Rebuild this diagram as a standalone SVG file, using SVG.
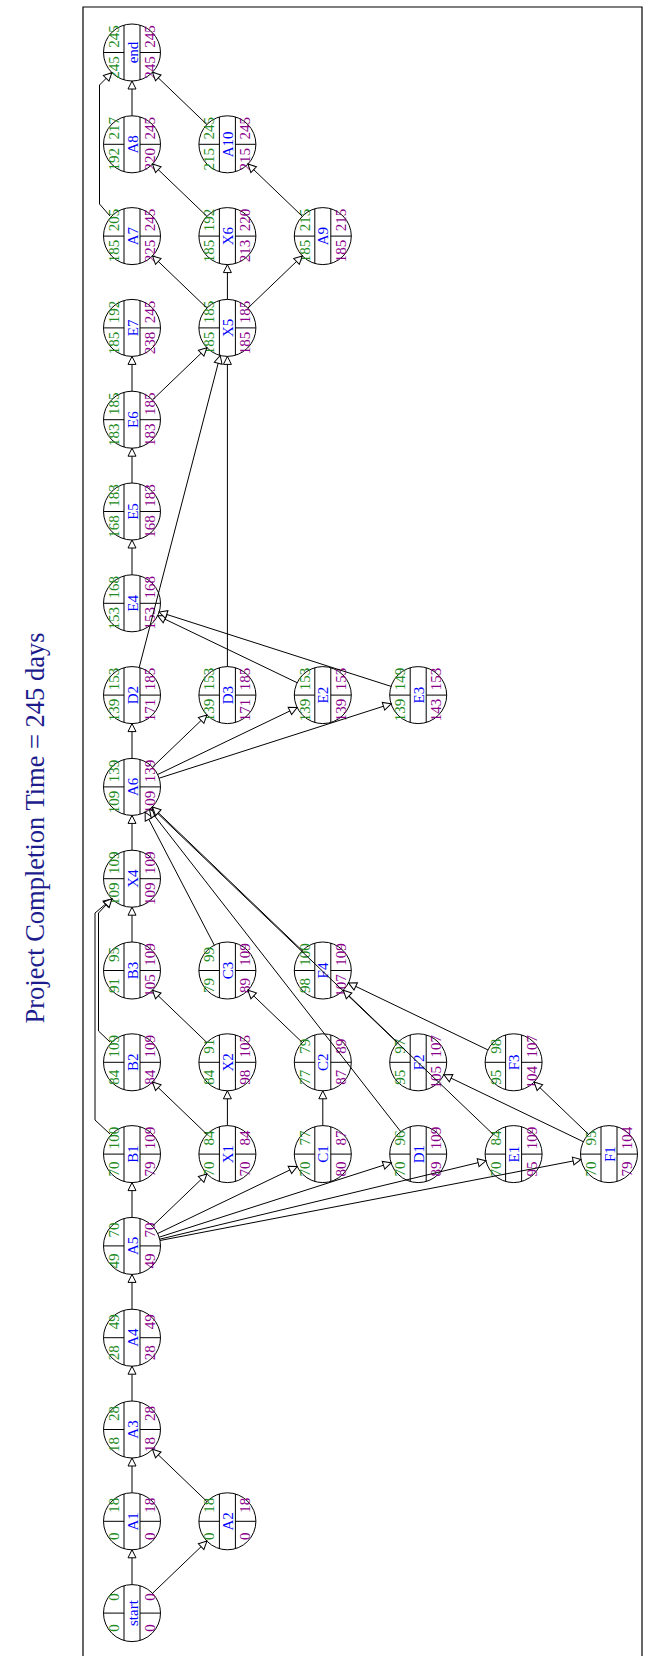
<svg xmlns="http://www.w3.org/2000/svg" xmlns:xlink="http://www.w3.org/1999/xlink" width="645" height="1656" viewBox="0 0 645 1656">
<style>
.bg{fill:#fff}
.frame{fill:none;stroke:#000;stroke-width:1.2}
.shape circle{fill:none;stroke:#000;stroke-width:1}
.shape path{fill:none;stroke:#000;stroke-width:1}
.nd text{font-family:"Liberation Serif","Times New Roman",serif;font-size:15px;text-anchor:middle}
.g{fill:#228b22}
.p{fill:#8b008b}
.n{fill:#0000ff;font-size:16px}
.e{fill:none;stroke:#000;stroke-width:1;marker-end:url(#arr)}
.title{font-family:"Liberation Serif","Times New Roman",serif;font-size:26.5px;fill:#1c1c8c;text-anchor:middle}
</style>
<defs>
<marker id="arr" viewBox="-10 -6 12 12" refX="0" refY="0" markerWidth="12" markerHeight="12" markerUnits="userSpaceOnUse" orient="auto">
<path d="M0,0 L-8,-4 L-8,4 Z" fill="#fff" stroke="#000" stroke-width="1"/>
</marker>
<g id="shape" class="shape"><circle r="28.5"/><path d="M-8,-27.4V27.4M8,-27.4V27.4M-28.5,0H-8M8,0H28.5"/></g>
</defs>
<rect class="bg" x="0" y="0" width="645" height="1656"/>
<path class="frame" d="M83,1660V7H642V1660"/>
<text class="title" transform="rotate(-90)" x="-828" y="44">Project Completion Time = 245 days</text>

<g id="nodes">
<g id="n-end" class="nd" transform="translate(132,52.5)"><use xlink:href="#shape"/><g transform="rotate(-90)"><text class="g" x="16" y="-13">245</text><text class="g" x="-15" y="-13">245</text><text class="p" x="16" y="23">245</text><text class="p" x="-15" y="23">245</text><text class="n" x="0" y="5.5">end</text></g></g>
<g id="n-A8" class="nd" transform="translate(132,144.3)"><use xlink:href="#shape"/><g transform="rotate(-90)"><text class="g" x="16" y="-13">217</text><text class="g" x="-15" y="-13">192</text><text class="p" x="16" y="23">245</text><text class="p" x="-15" y="23">220</text><text class="n" x="0" y="5.5">A8</text></g></g>
<g id="n-A10" class="nd" transform="translate(227.4,144.3)"><use xlink:href="#shape"/><g transform="rotate(-90)"><text class="g" x="16" y="-13">245</text><text class="g" x="-15" y="-13">215</text><text class="p" x="16" y="23">245</text><text class="p" x="-15" y="23">215</text><text class="n" x="0" y="5.5">A10</text></g></g>
<g id="n-A7" class="nd" transform="translate(132,236.1)"><use xlink:href="#shape"/><g transform="rotate(-90)"><text class="g" x="16" y="-13">205</text><text class="g" x="-15" y="-13">185</text><text class="p" x="16" y="23">245</text><text class="p" x="-15" y="23">225</text><text class="n" x="0" y="5.5">A7</text></g></g>
<g id="n-X6" class="nd" transform="translate(227.4,236.1)"><use xlink:href="#shape"/><g transform="rotate(-90)"><text class="g" x="16" y="-13">192</text><text class="g" x="-15" y="-13">185</text><text class="p" x="16" y="23">220</text><text class="p" x="-15" y="23">213</text><text class="n" x="0" y="5.5">X6</text></g></g>
<g id="n-A9" class="nd" transform="translate(322.8,236.1)"><use xlink:href="#shape"/><g transform="rotate(-90)"><text class="g" x="16" y="-13">215</text><text class="g" x="-15" y="-13">185</text><text class="p" x="16" y="23">215</text><text class="p" x="-15" y="23">185</text><text class="n" x="0" y="5.5">A9</text></g></g>
<g id="n-E7" class="nd" transform="translate(132,327.9)"><use xlink:href="#shape"/><g transform="rotate(-90)"><text class="g" x="16" y="-13">192</text><text class="g" x="-15" y="-13">185</text><text class="p" x="16" y="23">245</text><text class="p" x="-15" y="23">238</text><text class="n" x="0" y="5.5">E7</text></g></g>
<g id="n-X5" class="nd" transform="translate(227.4,327.9)"><use xlink:href="#shape"/><g transform="rotate(-90)"><text class="g" x="16" y="-13">185</text><text class="g" x="-15" y="-13">185</text><text class="p" x="16" y="23">185</text><text class="p" x="-15" y="23">185</text><text class="n" x="0" y="5.5">X5</text></g></g>
<g id="n-E6" class="nd" transform="translate(132,419.7)"><use xlink:href="#shape"/><g transform="rotate(-90)"><text class="g" x="16" y="-13">185</text><text class="g" x="-15" y="-13">183</text><text class="p" x="16" y="23">185</text><text class="p" x="-15" y="23">183</text><text class="n" x="0" y="5.5">E6</text></g></g>
<g id="n-E5" class="nd" transform="translate(132,511.5)"><use xlink:href="#shape"/><g transform="rotate(-90)"><text class="g" x="16" y="-13">183</text><text class="g" x="-15" y="-13">168</text><text class="p" x="16" y="23">183</text><text class="p" x="-15" y="23">168</text><text class="n" x="0" y="5.5">E5</text></g></g>
<g id="n-E4" class="nd" transform="translate(132,603.3)"><use xlink:href="#shape"/><g transform="rotate(-90)"><text class="g" x="16" y="-13">168</text><text class="g" x="-15" y="-13">153</text><text class="p" x="16" y="23">168</text><text class="p" x="-15" y="23">153</text><text class="n" x="0" y="5.5">E4</text></g></g>
<g id="n-D2" class="nd" transform="translate(132,695.1)"><use xlink:href="#shape"/><g transform="rotate(-90)"><text class="g" x="16" y="-13">153</text><text class="g" x="-15" y="-13">139</text><text class="p" x="16" y="23">185</text><text class="p" x="-15" y="23">171</text><text class="n" x="0" y="5.5">D2</text></g></g>
<g id="n-D3" class="nd" transform="translate(227.4,695.1)"><use xlink:href="#shape"/><g transform="rotate(-90)"><text class="g" x="16" y="-13">153</text><text class="g" x="-15" y="-13">139</text><text class="p" x="16" y="23">185</text><text class="p" x="-15" y="23">171</text><text class="n" x="0" y="5.5">D3</text></g></g>
<g id="n-E2" class="nd" transform="translate(322.8,695.1)"><use xlink:href="#shape"/><g transform="rotate(-90)"><text class="g" x="16" y="-13">153</text><text class="g" x="-15" y="-13">139</text><text class="p" x="16" y="23">153</text><text class="p" x="-15" y="23">139</text><text class="n" x="0" y="5.5">E2</text></g></g>
<g id="n-E3" class="nd" transform="translate(418.2,695.1)"><use xlink:href="#shape"/><g transform="rotate(-90)"><text class="g" x="16" y="-13">149</text><text class="g" x="-15" y="-13">139</text><text class="p" x="16" y="23">153</text><text class="p" x="-15" y="23">143</text><text class="n" x="0" y="5.5">E3</text></g></g>
<g id="n-A6" class="nd" transform="translate(132,786.9)"><use xlink:href="#shape"/><g transform="rotate(-90)"><text class="g" x="16" y="-13">139</text><text class="g" x="-15" y="-13">109</text><text class="p" x="16" y="23">139</text><text class="p" x="-15" y="23">109</text><text class="n" x="0" y="5.5">A6</text></g></g>
<g id="n-X4" class="nd" transform="translate(132,878.7)"><use xlink:href="#shape"/><g transform="rotate(-90)"><text class="g" x="16" y="-13">109</text><text class="g" x="-15" y="-13">109</text><text class="p" x="16" y="23">109</text><text class="p" x="-15" y="23">109</text><text class="n" x="0" y="5.5">X4</text></g></g>
<g id="n-B3" class="nd" transform="translate(132,970.5)"><use xlink:href="#shape"/><g transform="rotate(-90)"><text class="g" x="16" y="-13">95</text><text class="g" x="-15" y="-13">91</text><text class="p" x="16" y="23">109</text><text class="p" x="-15" y="23">105</text><text class="n" x="0" y="5.5">B3</text></g></g>
<g id="n-C3" class="nd" transform="translate(227.4,970.5)"><use xlink:href="#shape"/><g transform="rotate(-90)"><text class="g" x="16" y="-13">99</text><text class="g" x="-15" y="-13">79</text><text class="p" x="16" y="23">109</text><text class="p" x="-15" y="23">89</text><text class="n" x="0" y="5.5">C3</text></g></g>
<g id="n-F4" class="nd" transform="translate(322.8,970.5)"><use xlink:href="#shape"/><g transform="rotate(-90)"><text class="g" x="16" y="-13">100</text><text class="g" x="-15" y="-13">98</text><text class="p" x="16" y="23">109</text><text class="p" x="-15" y="23">107</text><text class="n" x="0" y="5.5">F4</text></g></g>
<g id="n-B2" class="nd" transform="translate(132,1062.3)"><use xlink:href="#shape"/><g transform="rotate(-90)"><text class="g" x="16" y="-13">109</text><text class="g" x="-15" y="-13">84</text><text class="p" x="16" y="23">109</text><text class="p" x="-15" y="23">84</text><text class="n" x="0" y="5.5">B2</text></g></g>
<g id="n-X2" class="nd" transform="translate(227.4,1062.3)"><use xlink:href="#shape"/><g transform="rotate(-90)"><text class="g" x="16" y="-13">91</text><text class="g" x="-15" y="-13">84</text><text class="p" x="16" y="23">105</text><text class="p" x="-15" y="23">98</text><text class="n" x="0" y="5.5">X2</text></g></g>
<g id="n-C2" class="nd" transform="translate(322.8,1062.3)"><use xlink:href="#shape"/><g transform="rotate(-90)"><text class="g" x="16" y="-13">79</text><text class="g" x="-15" y="-13">77</text><text class="p" x="16" y="23">89</text><text class="p" x="-15" y="23">87</text><text class="n" x="0" y="5.5">C2</text></g></g>
<g id="n-F2" class="nd" transform="translate(418.2,1062.3)"><use xlink:href="#shape"/><g transform="rotate(-90)"><text class="g" x="16" y="-13">97</text><text class="g" x="-15" y="-13">95</text><text class="p" x="16" y="23">107</text><text class="p" x="-15" y="23">105</text><text class="n" x="0" y="5.5">F2</text></g></g>
<g id="n-F3" class="nd" transform="translate(513.6,1062.3)"><use xlink:href="#shape"/><g transform="rotate(-90)"><text class="g" x="16" y="-13">98</text><text class="g" x="-15" y="-13">95</text><text class="p" x="16" y="23">107</text><text class="p" x="-15" y="23">104</text><text class="n" x="0" y="5.5">F3</text></g></g>
<g id="n-B1" class="nd" transform="translate(132,1154.1)"><use xlink:href="#shape"/><g transform="rotate(-90)"><text class="g" x="16" y="-13">100</text><text class="g" x="-15" y="-13">70</text><text class="p" x="16" y="23">109</text><text class="p" x="-15" y="23">79</text><text class="n" x="0" y="5.5">B1</text></g></g>
<g id="n-X1" class="nd" transform="translate(227.4,1154.1)"><use xlink:href="#shape"/><g transform="rotate(-90)"><text class="g" x="16" y="-13">84</text><text class="g" x="-15" y="-13">70</text><text class="p" x="16" y="23">84</text><text class="p" x="-15" y="23">70</text><text class="n" x="0" y="5.5">X1</text></g></g>
<g id="n-C1" class="nd" transform="translate(322.8,1154.1)"><use xlink:href="#shape"/><g transform="rotate(-90)"><text class="g" x="16" y="-13">77</text><text class="g" x="-15" y="-13">70</text><text class="p" x="16" y="23">87</text><text class="p" x="-15" y="23">80</text><text class="n" x="0" y="5.5">C1</text></g></g>
<g id="n-D1" class="nd" transform="translate(418.2,1154.1)"><use xlink:href="#shape"/><g transform="rotate(-90)"><text class="g" x="16" y="-13">96</text><text class="g" x="-15" y="-13">70</text><text class="p" x="16" y="23">109</text><text class="p" x="-15" y="23">89</text><text class="n" x="0" y="5.5">D1</text></g></g>
<g id="n-E1" class="nd" transform="translate(513.6,1154.1)"><use xlink:href="#shape"/><g transform="rotate(-90)"><text class="g" x="16" y="-13">84</text><text class="g" x="-15" y="-13">70</text><text class="p" x="16" y="23">109</text><text class="p" x="-15" y="23">95</text><text class="n" x="0" y="5.5">E1</text></g></g>
<g id="n-F1" class="nd" transform="translate(609,1154.1)"><use xlink:href="#shape"/><g transform="rotate(-90)"><text class="g" x="16" y="-13">95</text><text class="g" x="-15" y="-13">70</text><text class="p" x="16" y="23">104</text><text class="p" x="-15" y="23">79</text><text class="n" x="0" y="5.5">F1</text></g></g>
<g id="n-A5" class="nd" transform="translate(132,1245.9)"><use xlink:href="#shape"/><g transform="rotate(-90)"><text class="g" x="16" y="-13">70</text><text class="g" x="-15" y="-13">49</text><text class="p" x="16" y="23">70</text><text class="p" x="-15" y="23">49</text><text class="n" x="0" y="5.5">A5</text></g></g>
<g id="n-A4" class="nd" transform="translate(132,1337.7)"><use xlink:href="#shape"/><g transform="rotate(-90)"><text class="g" x="16" y="-13">49</text><text class="g" x="-15" y="-13">28</text><text class="p" x="16" y="23">49</text><text class="p" x="-15" y="23">28</text><text class="n" x="0" y="5.5">A4</text></g></g>
<g id="n-A3" class="nd" transform="translate(132,1429.5)"><use xlink:href="#shape"/><g transform="rotate(-90)"><text class="g" x="16" y="-13">28</text><text class="g" x="-15" y="-13">18</text><text class="p" x="16" y="23">28</text><text class="p" x="-15" y="23">18</text><text class="n" x="0" y="5.5">A3</text></g></g>
<g id="n-A1" class="nd" transform="translate(132,1521.3)"><use xlink:href="#shape"/><g transform="rotate(-90)"><text class="g" x="16" y="-13">18</text><text class="g" x="-15" y="-13">0</text><text class="p" x="16" y="23">18</text><text class="p" x="-15" y="23">0</text><text class="n" x="0" y="5.5">A1</text></g></g>
<g id="n-A2" class="nd" transform="translate(227.4,1521.3)"><use xlink:href="#shape"/><g transform="rotate(-90)"><text class="g" x="16" y="-13">18</text><text class="g" x="-15" y="-13">0</text><text class="p" x="16" y="23">18</text><text class="p" x="-15" y="23">0</text><text class="n" x="0" y="5.5">A2</text></g></g>
<g id="n-start" class="nd" transform="translate(132,1613.1)"><use xlink:href="#shape"/><g transform="rotate(-90)"><text class="g" x="16" y="-13">0</text><text class="g" x="-15" y="-13">0</text><text class="p" x="16" y="23">0</text><text class="p" x="-15" y="23">0</text><text class="n" x="0" y="5.5">start</text></g></g>
</g>

<g id="connectors">
<path class="e" d="M132,1584.6V1549.8"/>
<path class="e" d="M152.5,1593.3L206.9,1541.1"/>
<path class="e" d="M132,1492.8V1458"/>
<path class="e" d="M206.9,1501.5L152.5,1449.3"/>
<path class="e" d="M132,1401V1366.2"/>
<path class="e" d="M132,1309.2V1274.4"/>
<path class="e" d="M132,1217.4V1182.6"/>
<path class="e" d="M152.5,1226.1L206.9,1173.9"/>
<path class="e" d="M157.7,1233.5L297.1,1166.5"/>
<path class="e" d="M159.1,1237.2L391.1,1162.8"/>
<path class="e" d="M159.7,1239.2L485.9,1160.8"/>
<path class="e" d="M160,1240.5L581,1159.5"/>
<path class="e" d="M110,1134L95,1120V913L111.8,898.9"/>
<path class="e" d="M110,1042L98.5,1031V913L111.8,898.9"/>
<path class="e" d="M132,942V907.2"/>
<path class="e" d="M227.4,1125.6V1090.8"/>
<path class="e" d="M206.9,1134.3L152.5,1082.1"/>
<path class="e" d="M206.9,1042.5L152.5,990.3"/>
<path class="e" d="M322.8,1125.6V1090.8"/>
<path class="e" d="M302.3,1042.5L247.9,990.3"/>
<path class="e" d="M214.3,945.2L145.1,812.2"/>
<path class="e" d="M400.7,1131.6L149.5,809.4"/>
<path class="e" d="M493.1,1134.3L151.8,807.8"/>
<path class="e" d="M302.3,950.7L152.5,807.1"/>
<path class="e" d="M583.3,1141.7L443.9,1074.7"/>
<path class="e" d="M588.5,1134.3L534.1,1082.1"/>
<path class="e" d="M397.7,1042.5L343.3,990.3"/>
<path class="e" d="M487.9,1049.9L348.5,982.9"/>
<path class="e" d="M132,850.2V815.4"/>
<path class="e" d="M132,758.4V723.6"/>
<path class="e" d="M152.5,767.1L206.9,714.9"/>
<path class="e" d="M157.7,774.5L297.1,707.5"/>
<path class="e" d="M159.1,778.2L391.1,703.8"/>
<path class="e" d="M139.2,667.5L220.2,355.5"/>
<path class="e" d="M227.4,666.6V356.4"/>
<path class="e" d="M297.1,682.7L157.7,615.7"/>
<path class="e" d="M391.1,686.4L159.1,612"/>
<path class="e" d="M132,574.8V540"/>
<path class="e" d="M132,483V448.2"/>
<path class="e" d="M132,391.2V356.4"/>
<path class="e" d="M152.5,399.9L206.9,347.7"/>
<path class="e" d="M206.9,308.1L152.5,255.9"/>
<path class="e" d="M227.4,299.4V264.6"/>
<path class="e" d="M247.9,308.1L302.3,255.9"/>
<path class="e" d="M206.9,216.3L152.5,164.1"/>
<path class="e" d="M302.3,216.3L247.9,164.1"/>
<path class="e" d="M132,115.8V81"/>
<path class="e" d="M206.9,124.5L152.5,72.3"/>
<path class="e" d="M110,216L99.5,204V85L111.8,72.7"/>
</g>
</svg>
